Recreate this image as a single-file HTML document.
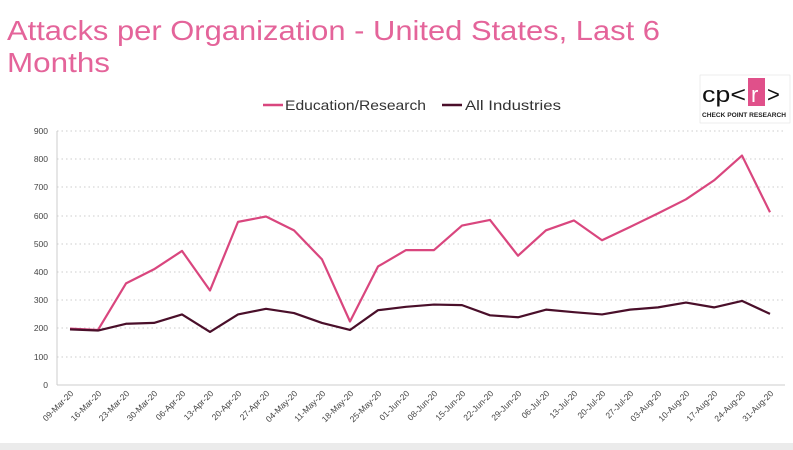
<!DOCTYPE html><html><head><style>body{margin:0;background:#fff}svg{display:block}text{font-family:"Liberation Sans",sans-serif}</style></head><body>
<svg width="793" height="450" viewBox="0 0 793 450">
<rect width="793" height="450" fill="#fff"/>
<text x="7" y="40" font-size="28" fill="#e4649a" textLength="653" lengthAdjust="spacingAndGlyphs">Attacks per Organization - United States, Last 6</text>
<text x="7" y="72" font-size="28" fill="#e4649a" textLength="103" lengthAdjust="spacingAndGlyphs">Months</text>
<line x1="263" y1="105" x2="283" y2="105" stroke="#d9467e" stroke-width="2.5"/>
<text x="285" y="110" font-size="14" fill="#333" textLength="141" lengthAdjust="spacingAndGlyphs">Education/Research</text>
<line x1="442" y1="105" x2="462" y2="105" stroke="#4a0f2a" stroke-width="2.5"/>
<text x="465" y="110" font-size="14" fill="#333" textLength="96" lengthAdjust="spacingAndGlyphs">All Industries</text>
<rect x="700" y="75" width="90" height="48" fill="#fff" stroke="#ddd" stroke-width="0.5"/>
<text x="702" y="102" font-size="22" fill="#111" textLength="44" lengthAdjust="spacingAndGlyphs">cp&lt;</text>
<rect x="748" y="78" width="17" height="28" fill="#e0508a"/>
<text x="751" y="102" font-size="22" fill="#fff">r</text>
<text x="767" y="102" font-size="22" fill="#111">&gt;</text>
<text x="702" y="117" font-size="6.5" font-weight="bold" fill="#222" textLength="84" lengthAdjust="spacingAndGlyphs">CHECK POINT RESEARCH</text>
<g stroke="#ccc" stroke-dasharray="1.5,3" stroke-width="1">
<line x1="57" x2="785" y1="131" y2="131"/><line x1="57" x2="785" y1="159" y2="159"/><line x1="57" x2="785" y1="187" y2="187"/><line x1="57" x2="785" y1="216" y2="216"/><line x1="57" x2="785" y1="244" y2="244"/><line x1="57" x2="785" y1="272" y2="272"/><line x1="57" x2="785" y1="300" y2="300"/><line x1="57" x2="785" y1="328" y2="328"/><line x1="57" x2="785" y1="357" y2="357"/>
</g>
<line x1="57" y1="131" x2="57" y2="385" stroke="#ccc"/>
<line x1="57" y1="385" x2="785" y2="385" stroke="#ccc"/>
<g font-size="8.5" fill="#444" text-anchor="end">
<text x="48" y="134">900</text><text x="48" y="162">800</text><text x="48" y="190">700</text><text x="48" y="219">600</text><text x="48" y="247">500</text><text x="48" y="275">400</text><text x="48" y="303">300</text><text x="48" y="331">200</text><text x="48" y="360">100</text><text x="48" y="388">0</text>
</g>
<g id="lbl" font-size="8.5" fill="#444" text-anchor="end"></g>
<polyline fill="none" stroke="#d9467e" stroke-width="2.2" stroke-linejoin="round" id="edu"/>
<polyline fill="none" stroke="#4a0f2a" stroke-width="2.2" stroke-linejoin="round" id="all"/>
<rect x="0" y="443" width="793" height="7" fill="#ebebeb"/>
</svg>
<script>
var e=[200,195,360,410,475,335,578,597,548,445,225,420,478,478,565,585,458,548,583,513,560,608,658,725,813,612];
var a=[197,193,217,220,250,188,250,270,255,220,195,265,277,285,283,247,240,267,258,250,267,275,292,275,298,252];
var L=["09-Mar-20","16-Mar-20","23-Mar-20","30-Mar-20","06-Apr-20","13-Apr-20","20-Apr-20","27-Apr-20","04-May-20","11-May-20","18-May-20","25-May-20","01-Jun-20","08-Jun-20","15-Jun-20","22-Jun-20","29-Jun-20","06-Jul-20","13-Jul-20","20-Jul-20","27-Jul-20","03-Aug-20","10-Aug-20","17-Aug-20","24-Aug-20","31-Aug-20"];
function X(i){return 70+i*28}function Y(v){return 385-v*254/900}
document.getElementById('edu').setAttribute('points',e.map((v,i)=>X(i)+','+Y(v)).join(' '));
document.getElementById('all').setAttribute('points',a.map((v,i)=>X(i)+','+Y(v)).join(' '));
var g=document.getElementById('lbl'),s='';
L.forEach((t,i)=>{var x=X(i)+4,y=394;s+='<text x="'+x+'" y="'+y+'" transform="rotate(-45 '+x+' '+y+')">'+t+'</text>'});
g.innerHTML=s;
</script>
</body></html>
